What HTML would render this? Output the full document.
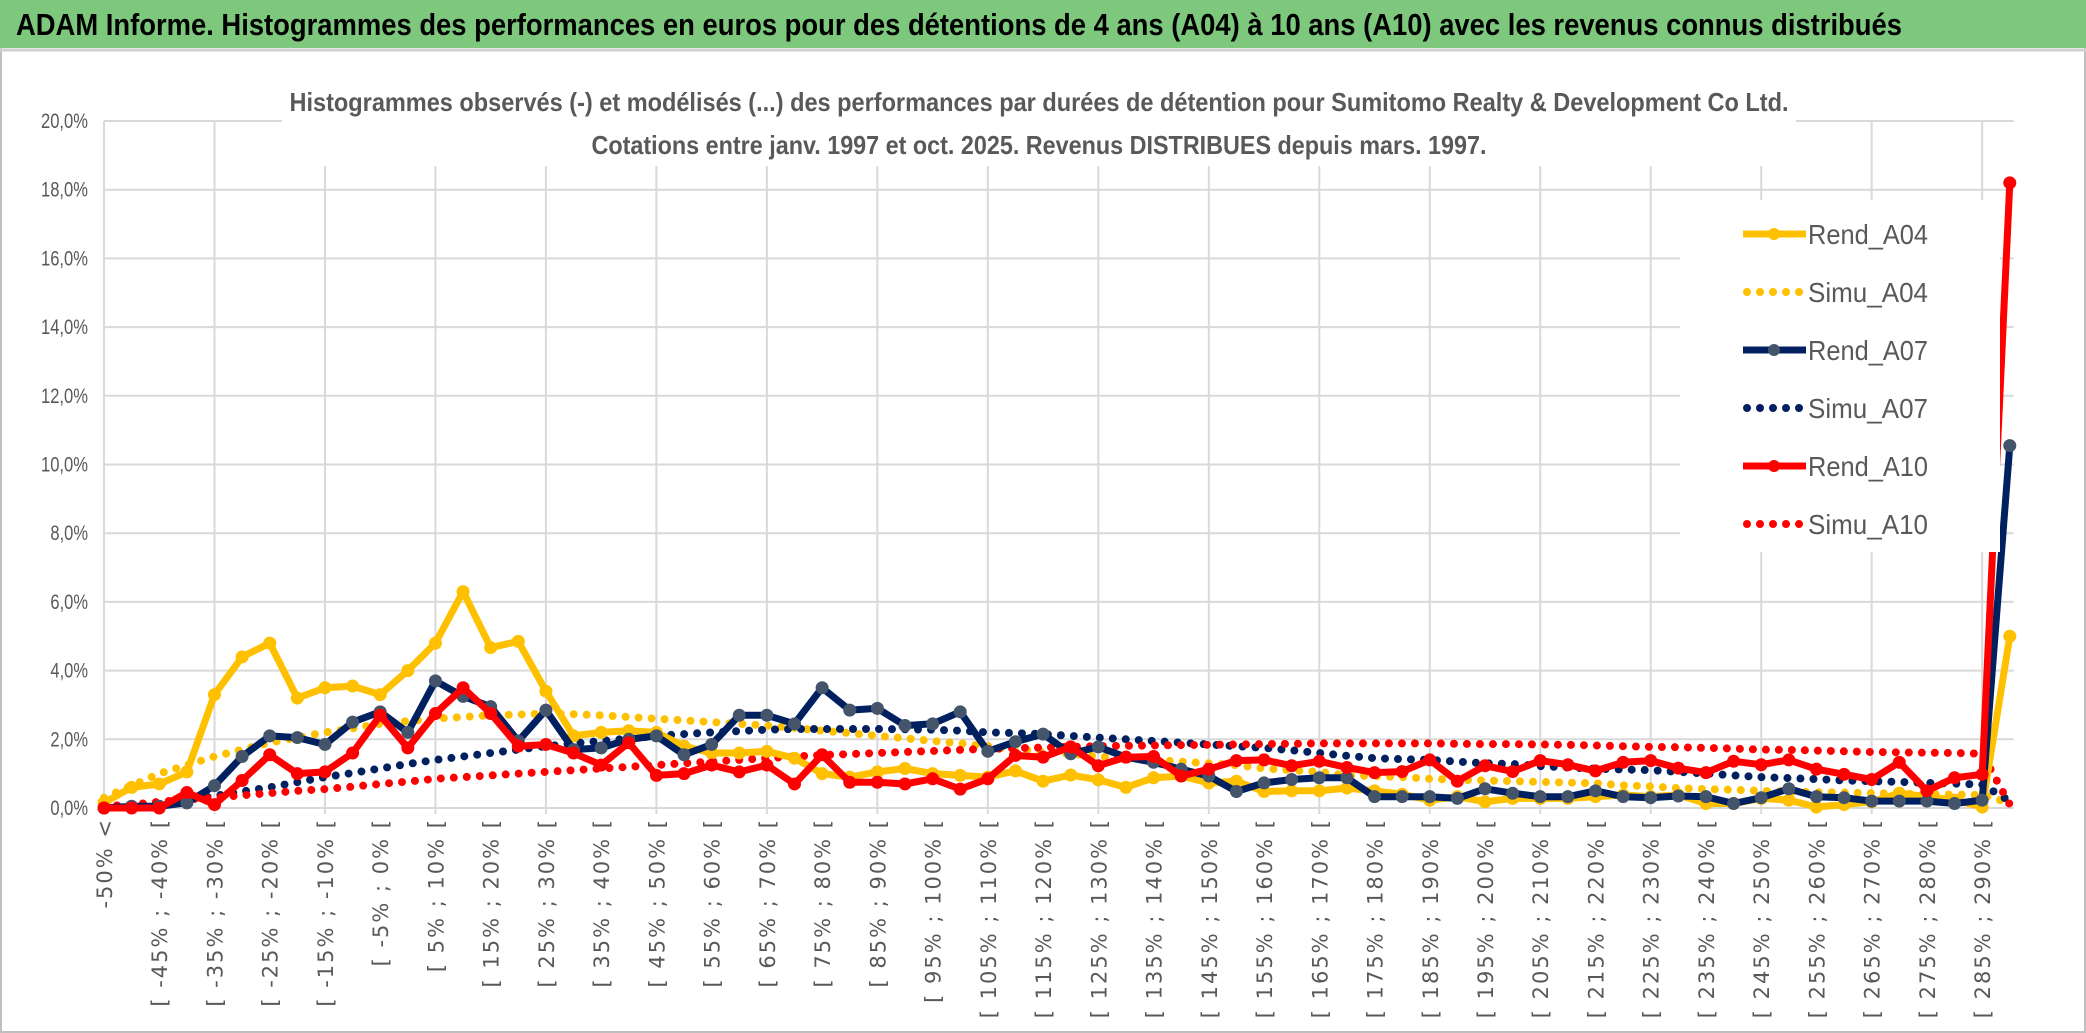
<!DOCTYPE html>
<html><head><meta charset="utf-8"><style>
html,body{margin:0;padding:0;background:#fff;}
svg{display:block;}
</style></head><body>
<svg id="chart" width="2086" height="1033" viewBox="0 0 2086 1033" xmlns="http://www.w3.org/2000/svg" font-family="'Liberation Sans', sans-serif">
<rect x="0" y="0" width="2086" height="1033" fill="#fff"/>
<rect x="1" y="1" width="2084" height="1031" fill="none" stroke="#bfbfbf" stroke-width="2"/>
<rect x="0" y="0" width="2086" height="48" fill="#7dc87d"/>
<line x1="0" y1="50" x2="2086" y2="50" stroke="#d0d0d0" stroke-width="3"/>
<text x="16" y="35" font-size="31" font-weight="bold" fill="#000" textLength="1886" lengthAdjust="spacingAndGlyphs">ADAM Informe. Histogrammes des performances en euros pour des détentions de 4 ans (A04) à 10 ans (A10) avec les revenus connus distribués</text>
<g id="grid"></g>
<rect x="282" y="86" width="1514" height="80" fill="#fff"/>
<text x="1039" y="111" font-size="26" font-weight="bold" fill="#595959" text-anchor="middle" textLength="1499" lengthAdjust="spacingAndGlyphs">Histogrammes observés (-) et modélisés (...) des performances par durées de détention pour Sumitomo Realty &amp; Development Co Ltd.</text>
<text x="1039" y="154" font-size="26" font-weight="bold" fill="#595959" text-anchor="middle" textLength="895" lengthAdjust="spacingAndGlyphs">Cotations entre janv. 1997 et oct. 2025. Revenus DISTRIBUES depuis mars. 1997.</text>
<g id="yaxis"></g>
<g id="xaxis"></g>
<g id="series"></g>
<g id="legend"></g>
</svg>
<script>
const yTicks = [0,2,4,6,8,10,12,14,16,18,20];
const yTickLabels = ["0,0%","2,0%","4,0%","6,0%","8,0%","10,0%","12,0%","14,0%","16,0%","18,0%","20,0%"];
const categoryLowerBounds = [null,-50,-45,-40,-35,-30,-25,-20,-15,-10,-5,0,5,10,15,20,25,30,35,40,45,50,55,60,65,70,75,80,85,90,95,100,105,110,115,120,125,130,135,140,145,150,155,160,165,170,175,180,185,190,195,200,205,210,215,220,225,230,235,240,245,250,255,260,265,270,275,280,285,290];
const rendA04 = [0.15,0.6,0.7,1.05,3.3,4.4,4.8,3.2,3.5,3.55,3.3,4.0,4.8,6.3,4.67,4.85,3.4,2.1,2.2,2.25,2.2,1.8,1.6,1.6,1.65,1.45,1.0,0.9,1.05,1.15,1.0,0.95,0.9,1.08,0.78,0.96,0.82,0.6,0.88,0.93,0.73,0.78,0.48,0.5,0.5,0.58,0.5,0.4,0.23,0.33,0.18,0.28,0.28,0.28,0.33,0.38,0.33,0.38,0.13,0.13,0.28,0.23,0.03,0.1,0.18,0.43,0.33,0.23,0.03,5.0];
const simuA04 = [0.3,0.65,1.0,1.25,1.5,1.7,1.9,2.05,2.2,2.32,2.45,2.53,2.6,2.65,2.7,2.72,2.75,2.73,2.7,2.65,2.6,2.55,2.5,2.45,2.4,2.33,2.25,2.18,2.1,2.03,1.95,1.88,1.8,1.72,1.65,1.58,1.5,1.45,1.4,1.35,1.3,1.25,1.15,1.1,1.05,0.95,0.93,0.9,0.85,0.82,0.8,0.78,0.76,0.74,0.72,0.66,0.63,0.58,0.55,0.53,0.5,0.48,0.46,0.45,0.43,0.42,0.4,0.39,0.38,0.15];
const rendA07 = [0,0.05,0.05,0.15,0.65,1.5,2.1,2.05,1.85,2.5,2.8,2.2,3.7,3.25,2.95,1.95,2.85,1.7,1.75,2.0,2.1,1.55,1.85,2.7,2.7,2.45,3.5,2.85,2.9,2.4,2.45,2.8,1.65,1.93,2.15,1.58,1.78,1.48,1.33,1.13,0.93,0.48,0.73,0.83,0.88,0.88,0.33,0.33,0.33,0.28,0.56,0.43,0.33,0.33,0.5,0.33,0.3,0.35,0.33,0.13,0.3,0.56,0.33,0.3,0.2,0.2,0.2,0.13,0.23,10.55];
const simuA07 = [0.05,0.1,0.15,0.25,0.35,0.48,0.6,0.75,0.9,1.02,1.15,1.28,1.4,1.5,1.6,1.7,1.8,1.88,1.95,2.02,2.1,2.15,2.2,2.24,2.28,2.3,2.3,2.3,2.3,2.29,2.28,2.25,2.2,2.18,2.15,2.1,2.05,2.0,1.95,1.9,1.85,1.8,1.75,1.68,1.6,1.52,1.45,1.42,1.4,1.35,1.3,1.28,1.22,1.18,1.14,1.12,1.1,1.05,1.0,0.95,0.9,0.87,0.84,0.8,0.78,0.76,0.73,0.71,0.68,0.2];
const rendA10 = [0,0,0,0.45,0.1,0.8,1.55,1.0,1.05,1.6,2.7,1.75,2.75,3.5,2.75,1.8,1.85,1.6,1.25,1.9,0.95,1.0,1.25,1.05,1.25,0.7,1.55,0.75,0.75,0.7,0.85,0.55,0.85,1.53,1.48,1.78,1.23,1.48,1.5,0.93,1.13,1.38,1.4,1.23,1.36,1.18,1.03,1.06,1.4,0.78,1.23,1.06,1.38,1.26,1.08,1.33,1.38,1.16,1.03,1.36,1.26,1.4,1.13,0.98,0.83,1.33,0.5,0.88,0.98,18.2];
const simuA10 = [0.05,0.1,0.18,0.25,0.3,0.37,0.43,0.5,0.55,0.62,0.7,0.77,0.85,0.9,0.95,1.0,1.05,1.1,1.15,1.2,1.25,1.3,1.35,1.4,1.45,1.5,1.54,1.57,1.6,1.63,1.66,1.69,1.72,1.74,1.76,1.78,1.8,1.81,1.82,1.83,1.84,1.85,1.86,1.87,1.88,1.88,1.88,1.88,1.88,1.87,1.86,1.86,1.85,1.84,1.82,1.8,1.78,1.77,1.75,1.73,1.7,1.69,1.67,1.65,1.63,1.62,1.61,1.6,1.58,0.1];
const legendNames = ["Rend_A04","Simu_A04","Rend_A07","Simu_A07","Rend_A10","Simu_A10"];

const NS = "http://www.w3.org/2000/svg";
const X0 = 104, XSTEP = 27.62, Y0 = 808, YPER = 34.35;
function xs(i){ return X0 + XSTEP*i; }
function ys(v){ return Y0 - YPER*v; }
function mk(tag, attrs, parent){ const e=document.createElementNS(NS,tag); for(const k in attrs) e.setAttribute(k,attrs[k]); parent.appendChild(e); return e; }
function catLabel(i){
  const lo = categoryLowerBounds[i];
  if(lo===null) return "-50% <";
  return "[ " + lo + "% ; " + (lo+5) + "% [";
}

const grid = document.getElementById('grid');
const yaxis = document.getElementById('yaxis');
const xaxis = document.getElementById('xaxis');
const series = document.getElementById('series');
const legend = document.getElementById('legend');
const N = categoryLowerBounds.length;

yTicks.forEach((t,k)=>{
  const y = ys(t);
  const l = mk('line',{x1:X0,x2:xs(N-1)+4,y1:y,y2:y,stroke:'#d9d9d9','stroke-width':2},grid);
  
  
  const tx = mk('text',{x:88,y:y+7,'font-size':21,fill:'#595959','text-anchor':'end'},yaxis);
  tx.textContent = yTickLabels[k];
  tx.setAttribute('textLength', yTickLabels[k].length*9.4);
  tx.setAttribute('lengthAdjust','spacingAndGlyphs');
  
  
});
for(let i=0;i<N;i+=4){
  const x = xs(i);
  const l = mk('line',{x1:x,x2:x,y1:ys(20),y2:Y0+6,stroke:'#d9d9d9','stroke-width':2},grid);
  
  
}
for(let i=0;i<N;i+=2){
  const x = xs(i)+8, y = 818;
  const tx = mk('text',{x:x,y:y,'font-size':21,fill:'#595959','text-anchor':'end','font-family':"'DejaVu Sans', sans-serif",'letter-spacing':'2',transform:'rotate(-90 '+x+' '+y+')'},xaxis);
  tx.textContent = catLabel(i);
  
  
}

function pts(arr){ return arr.map((v,i)=>xs(i).toFixed(1)+','+ys(v).toFixed(1)).join(' '); }
function dotted(arr,color,name){
  const p = mk('polyline',{points:pts(arr),fill:'none',stroke:color,'stroke-width':8,'stroke-linecap':'round','stroke-dasharray':'0 13'},series);
  
  
}
function solid(arr,color,mcolor,name){
  const g = mk('g',{},series);
  
  
  mk('polyline',{points:pts(arr),fill:'none',stroke:color,'stroke-width':7,'stroke-linejoin':'round'},g);
  arr.forEach((v,i)=>{
    const c = mk('circle',{cx:xs(i),cy:ys(v),r:6.5,fill:mcolor},g);
    
    
  });
}
dotted(simuA04,'#FFC000','simu-a04-line');
dotted(simuA07,'#002060','simu-a07-line');
dotted(simuA10,'#FF0000','simu-a10-line');
solid(rendA04,'#FFC000','#FFC000','rend-a04-line');
solid(rendA07,'#002060','#44546A','rend-a07-line');
solid(rendA10,'#FF0000','#FF0000','rend-a10-line');

// legend
const lb = mk('rect',{x:1680,y:200,width:320,height:352,fill:'#fff'},legend);


const lcol = ['#FFC000','#FFC000','#002060','#002060','#FF0000','#FF0000'];
const lmk = ['#FFC000',null,'#44546A',null,'#FF0000',null];
legendNames.forEach((nm,k)=>{
  const y = 234 + k*58;
  const g = mk('g',{},legend);
  
  
  if(lmk[k]){
    mk('line',{x1:1743,x2:1806,y1:y,y2:y,stroke:lcol[k],'stroke-width':7},g);
    mk('circle',{cx:1774,cy:y,r:6,fill:lmk[k]},g);
  } else {
    mk('line',{x1:1747,x2:1806,y1:y,y2:y,stroke:lcol[k],'stroke-width':8,'stroke-linecap':'round','stroke-dasharray':'0 13'},g);
  }
  const t = mk('text',{x:1808,y:y+10,'font-size':28,fill:'#595959',textLength:120,lengthAdjust:'spacingAndGlyphs'},g);
  t.textContent = nm;
});
</script>
</body></html>
